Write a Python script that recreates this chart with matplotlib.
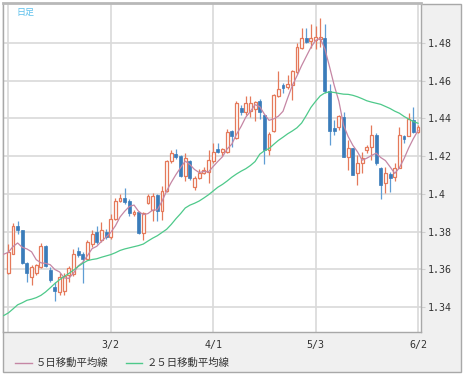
import numpy as np
import pandas as pd
import matplotlib
matplotlib.use("Agg")
import matplotlib.pyplot as plt
from matplotlib.patches import Rectangle
from matplotlib.lines import Line2D

# daily candles, 1/31 .. 6/2 (index 0 .. 88)
opens = [1.3578, 1.3683, 1.3827, 1.3806, 1.3634, 1.3561, 1.3579, 1.3613, 1.3724, 1.3599,
         1.3505, 1.3482, 1.3485, 1.3570, 1.3575, 1.3696, 1.3680, 1.3657, 1.3736, 1.3797,
         1.3757, 1.3800, 1.3771, 1.3867, 1.3963, 1.3980, 1.3963, 1.3893, 1.3905, 1.3792,
         1.3949, 1.3914, 1.3993, 1.3911, 1.4015, 1.4173, 1.4211, 1.4199, 1.4094, 1.4173,
         1.4036, 1.4085, 1.4112, 1.4118, 1.4174, 1.4236, 1.4220, 1.4223, 1.4332, 1.4297,
         1.4457, 1.4434, 1.4441, 1.4450, 1.4490, 1.4420, 1.4232, 1.4332, 1.4519, 1.4575,
         1.4566, 1.4578, 1.4645, 1.4772, 1.4826, 1.4812, 1.4816, 1.4821, 1.4826, 1.4543,
         1.4350, 1.4356, 1.4408, 1.4197, 1.4241, 1.4110, 1.4163, 1.4232, 1.4250, 1.4312,
         1.4137, 1.4057, 1.4105, 1.4090, 1.4137, 1.4306, 1.4306, 1.4391, 1.4329]
highs = [1.3736, 1.3844, 1.3858, 1.3809, 1.3640, 1.3625, 1.3630, 1.3739, 1.3730, 1.3613,
         1.3535, 1.3582, 1.3578, 1.3617, 1.3710, 1.3718, 1.3692, 1.3757, 1.3809, 1.3832,
         1.3849, 1.3815, 1.3893, 1.3980, 1.4001, 1.4029, 1.3972, 1.3914, 1.3910, 1.3902,
         1.3998, 1.4007, 1.3998, 1.4042, 1.4181, 1.4234, 1.4239, 1.4208, 1.4216, 1.4181,
         1.4094, 1.4129, 1.4141, 1.4232, 1.4267, 1.4267, 1.4245, 1.4346, 1.4337, 1.4491,
         1.4470, 1.4519, 1.4519, 1.4490, 1.4500, 1.4425, 1.4325, 1.4530, 1.4651, 1.4589,
         1.4631, 1.4654, 1.4800, 1.4877, 1.4877, 1.4900, 1.4891, 1.4932, 1.4900, 1.4584,
         1.4391, 1.4420, 1.4435, 1.4285, 1.4245, 1.4206, 1.4220, 1.4260, 1.4364, 1.4320,
         1.4140, 1.4144, 1.4115, 1.4163, 1.4356, 1.4310, 1.4428, 1.4461, 1.4365]
lows = [1.3575, 1.3680, 1.3788, 1.3627, 1.3535, 1.3517, 1.3570, 1.3605, 1.3613, 1.3535,
        1.3430, 1.3465, 1.3465, 1.3535, 1.3564, 1.3666, 1.3526, 1.3648, 1.3718, 1.3736,
        1.3745, 1.3762, 1.3762, 1.3860, 1.3955, 1.3946, 1.3884, 1.3884, 1.3785, 1.3753,
        1.3946, 1.3858, 1.3858, 1.3862, 1.4012, 1.4165, 1.4187, 1.4089, 1.4068, 1.4071,
        1.4019, 1.4080, 1.4106, 1.4059, 1.4165, 1.4215, 1.4202, 1.4215, 1.4250, 1.4292,
        1.4417, 1.4417, 1.4405, 1.4385, 1.4395, 1.4157, 1.4205, 1.4328, 1.4513, 1.4536,
        1.4557, 1.4496, 1.4637, 1.4768, 1.4800, 1.4772, 1.4768, 1.4777, 1.4536, 1.4259,
        1.4312, 1.4340, 1.4197, 1.4126, 1.4100, 1.4047, 1.4110, 1.4215, 1.4179, 1.4153,
        1.3972, 1.4004, 1.4011, 1.4070, 1.4135, 1.4270, 1.4306, 1.4320, 1.4320]
closes = [1.3690, 1.3832, 1.3806, 1.3634, 1.3578, 1.3614, 1.3623, 1.3724, 1.3619, 1.3543,
          1.3486, 1.3560, 1.3566, 1.3605, 1.3683, 1.3675, 1.3657, 1.3745, 1.3788, 1.3745,
          1.3806, 1.3771, 1.3867, 1.3963, 1.3980, 1.3958, 1.3897, 1.3905, 1.3792, 1.3897,
          1.3986, 1.3989, 1.3911, 1.4015, 1.4173, 1.4216, 1.4194, 1.4094, 1.4190, 1.4082,
          1.4085, 1.4112, 1.4124, 1.4179, 1.4223, 1.4220, 1.4237, 1.4329, 1.4306, 1.4482,
          1.4431, 1.4482, 1.4482, 1.4485, 1.4431, 1.4232, 1.4317, 1.4522, 1.4554, 1.4561,
          1.4584, 1.4649, 1.4777, 1.4826, 1.4804, 1.4826, 1.4830, 1.4833, 1.4543, 1.4332,
          1.4335, 1.4412, 1.4197, 1.4241, 1.4100, 1.4163, 1.4190, 1.4250, 1.4312, 1.4162,
          1.4047, 1.4110, 1.4084, 1.4137, 1.4312, 1.4289, 1.4395, 1.4329, 1.4352]
# closes before the first visible day (for the 5 day average at the left edge)
lead_closes = [1.3640, 1.3680, 1.3710, 1.3750, 1.3620]
# 25 day average as drawn, index -1 .. 88
ma25 = [1.3355, 1.3369, 1.3390, 1.3412, 1.3423, 1.3436, 1.3442, 1.3450, 1.3462, 1.3480, 1.3502,
        1.3525, 1.3545, 1.3562, 1.3578, 1.3596, 1.3615, 1.3632, 1.3646, 1.3652, 1.3656,
        1.3664, 1.3671, 1.3678, 1.3688, 1.3700, 1.3708, 1.3714, 1.3720, 1.3726, 1.3734,
        1.3750, 1.3765, 1.3778, 1.3795, 1.3812, 1.3838, 1.3868, 1.3895, 1.3925, 1.3940,
        1.3950, 1.3962, 1.3978, 1.3995, 1.4015, 1.4035, 1.4050, 1.4068, 1.4088, 1.4105,
        1.4120, 1.4133, 1.4150, 1.4171, 1.4210, 1.4228, 1.4240, 1.4262, 1.4283, 1.4300,
        1.4318, 1.4333, 1.4350, 1.4375, 1.4415, 1.4458, 1.4490, 1.4519, 1.4535, 1.4540,
        1.4537, 1.4532, 1.4528, 1.4527, 1.4522, 1.4514, 1.4504, 1.4493, 1.4486, 1.4480,
        1.4474, 1.4463, 1.4452, 1.4438, 1.4427, 1.4410, 1.4396, 1.4383, 1.4374]

x_ticks = [0, 22, 44, 66, 88]
x_labels = ["", "3/2", "4/1", "5/3", "6/2"]
y_ticks = [1.34, 1.36, 1.38, 1.40, 1.42, 1.44, 1.46, 1.48]
y_labels = ["1.34", "1.36", "1.38", "1.4", "1.42", "1.44", "1.46", "1.48"]

up_col = "#e5795a"
dn_col = "#3a7cba"
dn_wick = "#5f9dd4"
ma5_col = "#c586a4"
ma25_col = "#4ec98a"

W, H = 465, 376
fig = plt.figure(figsize=(W / 100, H / 100), dpi=100)
fig.patch.set_facecolor("white")
fig.patches.append(Rectangle((3 / W, 4 / H), 458 / W, 368 / H, transform=fig.transFigure,
                             facecolor="#f0f0f0", edgecolor="#a8a8a8", lw=1, zorder=-5))

ax = fig.add_axes([3 / W, 1 - 332 / H, 418 / W, 329 / H])
ax.set_zorder(1)
ax.set_facecolor("white")

n = len(closes)
x = np.arange(n)
o = np.array(opens); c = np.array(closes)
h = np.array(highs); l = np.array(lows)
up = c >= o

# wicks
ax.vlines(x[up], l[up], h[up], color=up_col, lw=0.9, zorder=2)
ax.vlines(x[~up], l[~up], h[~up], color=dn_wick, lw=0.9, zorder=2)

# bodies
body = np.maximum(np.abs(c - o), 0.0003)
bot = np.minimum(o, c)
ax.bar(x[up], body[up], bottom=bot[up], width=0.62, facecolor="white",
       edgecolor=up_col, lw=0.9, zorder=3)
ax.bar(x[~up], body[~up], bottom=bot[~up], width=0.62, facecolor=dn_col,
       edgecolor=dn_col, lw=0.5, zorder=3)

# moving averages
all_close = pd.Series(lead_closes + closes)
ma5 = all_close.rolling(5).mean().to_numpy()
x_all = np.arange(-len(lead_closes), n)
ax.plot(x_all, ma5, color=ma5_col, lw=0.9, zorder=4)
ax.plot(np.arange(-1, n), ma25, color=ma25_col, lw=0.9, zorder=4)

ax.set_xlim(-1.14, 88.64)
ax.set_ylim(1.3268, 1.5011)

ax.set_xticks(x_ticks)
ax.set_xticklabels(x_labels)
ax.set_yticks(y_ticks)
ax.set_yticklabels(y_labels)
ax.yaxis.tick_right()
ax.grid(True, color="#d9d9d9", lw=1.2, zorder=0)
ax.set_axisbelow(True)
ax.tick_params(axis="x", length=0, pad=6, labelsize=7.2, labelcolor="#333333")
ax.tick_params(axis="y", length=3, color="#d0d0d0", pad=2, labelsize=7.2, labelcolor="#333333")
for lab in ax.get_xticklabels() + ax.get_yticklabels():
    lab.set_family("DejaVu Sans Mono")
for s in ax.spines.values():
    s.set_color("#a8a8a8")
    s.set_linewidth(1.0)
ax.spines["top"].set_linewidth(2.0)
ax.spines["top"].set_color("#b8b8b8")

jp = ["Noto Sans CJK JP", "DejaVu Sans"]
fig.text(16 / W, 1 - 12 / H, "日足", color="#5cc0ec", fontsize=6.5, family=jp, va="center", zorder=5)

# legend
ly = 1 - 363 / H
fig.add_artist(Line2D([15 / W, 32 / W], [ly, ly], color=ma5_col, lw=1.0))
fig.text(36 / W, ly, "５日移動平均線", fontsize=7.5, family=jp, color="#333333", va="center")
fig.add_artist(Line2D([126 / W, 142 / W], [ly, ly], color=ma25_col, lw=1.0))
fig.text(147 / W, ly, "２５日移動平均線", fontsize=7.5, family=jp, color="#333333", va="center")

fig.savefig("out.png", dpi=100)
